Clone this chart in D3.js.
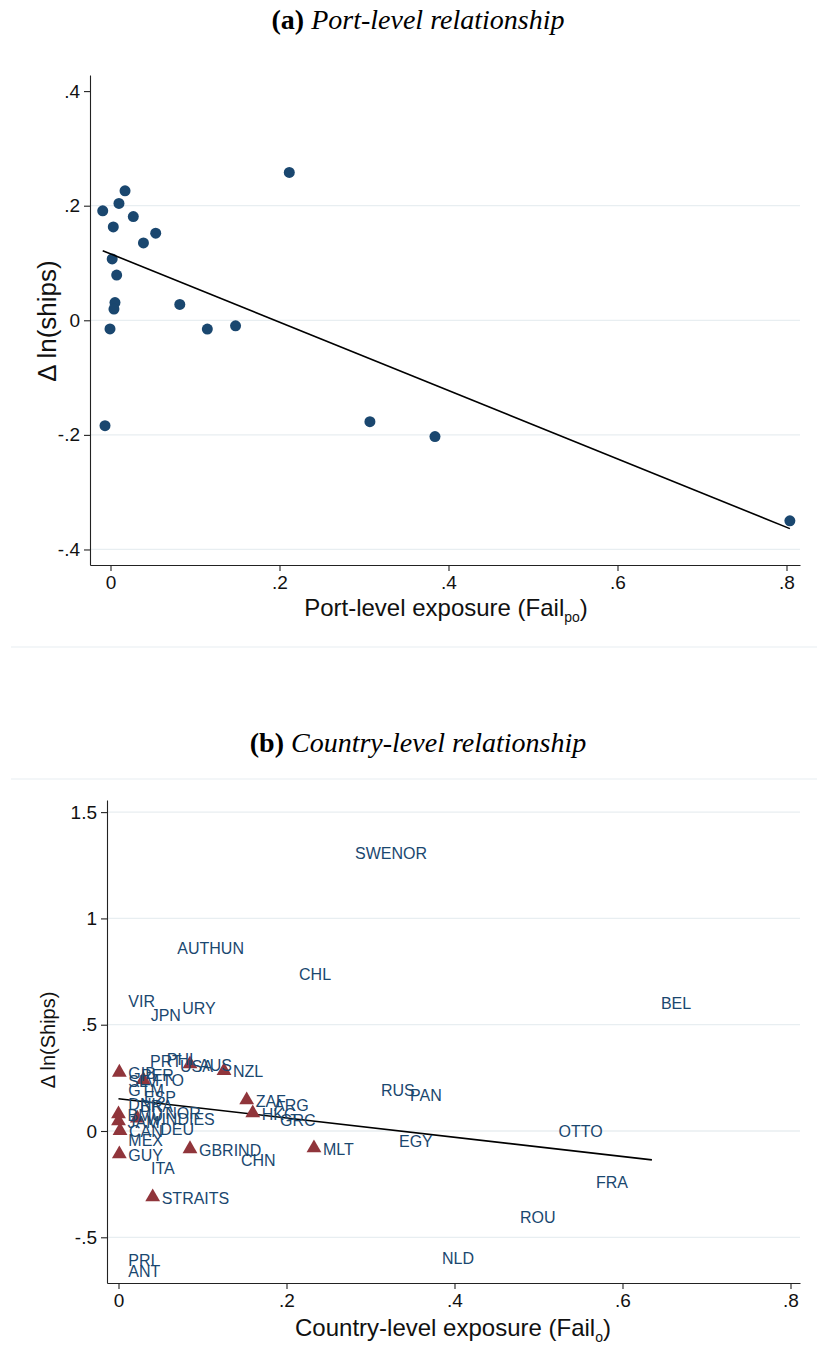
<!DOCTYPE html>
<html>
<head>
<meta charset="utf-8">
<script src="https://cdn.jsdelivr.net/npm/d3@7"></script>
<style>
  body { margin: 0; background: #fff; }
  svg { display: block; }
</style>
</head>
<body>
<script>
// ---------- Panel (a): port-level observations ----------
const portExposure = [-0.0092, 0.0033, 0.010, 0.0172, 0.027, 0.039, 0.0535, 0.002, 0.0073, 0.0053,
                      0.0041, -0.0006, 0.082, 0.1146, 0.148, 0.2116, -0.0065, 0.307, 0.384, 0.804];
const portChange   = [0.191, 0.163, 0.204, 0.226, 0.181, 0.135, 0.152, 0.107, 0.079, 0.031,
                      0.0195, -0.015, 0.0276, -0.0154, -0.0096, 0.258, -0.184, -0.177, -0.203, -0.350];
const portFitX = [-0.0092, 0.804];
const portFitY = [0.1215, -0.3636];
const portTicksX = [0, 0.2, 0.4, 0.6, 0.8];
const portTickLabelsX = ["0", ".2", ".4", ".6", ".8"];
const portTicksY = [-0.4, -0.2, 0, 0.2, 0.4];
const portTickLabelsY = ["-.4", "-.2", "0", ".2", ".4"];
const portGridY = [-0.4, -0.2, 0, 0.2];

// ---------- Panel (b): country-level observations ----------
// empire: 1 = British Empire (triangle marker), 0 = label only
const countryCodes = ["SWENOR","AUTHUN","CHL","VIR","JPN","URY","BEL","PHI","PRT","USA",
                      "ARG","GRC","CHN","ITA","PRI","ANT","NLD","ROU","FRA","OTTO",
                      "EGY","RUS","PAN","PER","SLV","GTM","ESP","DNK","BRA","NOR",
                      "DEU","MEX","GIB","TTO","AUS","NZL","ZAF","HKG","MLT","GBRIND",
                      "GUY","STRAITS","BMU","JAM","WINDIES","CAN"];
const countryExposure = [0.2708, 0.0593, 0.2042, 0.001, 0.0276, 0.0652, 0.635, 0.0467, 0.0268, 0.0625,
                         0.1744, 0.1815, 0.1351, 0.028, 0.001, 0.001, 0.3744, 0.4673, 0.5577, 0.5131,
                         0.3232, 0.3018, 0.3363, 0.0161, 0.001, 0.001, 0.0196, 0.001, 0.015, 0.045,
                         0.039, 0.001, 0.001, 0.0295, 0.0851, 0.1256, 0.1526, 0.1598, 0.2327, 0.0851,
                         0.001, 0.0407, 0.0, 0.0, 0.0224, 0.0018];
const countryChange   = [1.308, 0.859, 0.738, 0.611, 0.546, 0.577, 0.602, 0.339, 0.329, 0.306,
                         0.122, 0.052, -0.136, -0.174, -0.607, -0.659, -0.597, -0.405, -0.240, 0.0,
                         -0.047, 0.190, 0.169, 0.263, 0.235, 0.193, 0.160, 0.127, 0.118, 0.085,
                         0.007, -0.042, 0.271, 0.237, 0.310, 0.279, 0.141, 0.080, -0.085, -0.089,
                         -0.113, -0.315, 0.075, 0.042, 0.055, -0.003];
const countryEmpire   = [0,0,0,0,0,0,0,0,0,0,
                         0,0,0,0,0,0,0,0,0,0,
                         0,0,0,0,0,0,0,0,0,0,
                         0,0,1,1,1,1,1,1,1,1,
                         1,1,1,1,1,1];
const countryFitX = [0, 0.635];
const countryFitY = [0.152, -0.136];
const countryTicksX = [0, 0.2, 0.4, 0.6, 0.8];
const countryTickLabelsX = ["0", ".2", ".4", ".6", ".8"];
const countryTicksY = [-0.5, 0, 0.5, 1, 1.5];
const countryTickLabelsY = ["-.5", "0", ".5", "1", "1.5"];

// ---------- styling ----------
const NAVY = "#1a476f";
const MAROON = "#90353b";
const GRID = "#e8eef1";
const SANS = "'Liberation Sans', Arial, Helvetica, sans-serif";
const SERIF = "'Liberation Serif', 'Times New Roman', serif";

const W = 817, H = 1347;
const svg = d3.select("body").append("svg").attr("width", W).attr("height", H)
  .style("font-family", SANS);

// panel titles
function panelTitle(y, letter, text) {
  const t = svg.append("text").attr("x", 418).attr("y", y)
    .attr("text-anchor", "middle").style("font-family", SERIF).style("font-size", "28px");
  t.append("tspan").attr("font-weight", "bold").text(letter);
  t.append("tspan").attr("font-style", "italic").text(" " + text);
}
panelTitle(29, "(a)", "Port-level relationship");
panelTitle(752, "(b)", "Country-level relationship");

// light separators between graph regions
[647, 779].forEach(y => svg.append("line").attr("x1", 11).attr("x2", 817)
  .attr("y1", y).attr("y2", y).attr("stroke", GRID).attr("stroke-width", 1.2));

function drawAxes(g, x, y, cfg) {
  const [x0, x1] = x.range();
  const [yb, yt] = y.range();
  // grid
  g.append("g").selectAll("line").data(cfg.gridY).join("line")
    .attr("x1", x0).attr("x2", x1)
    .attr("y1", d => y(d)).attr("y2", d => y(d))
    .attr("stroke", GRID).attr("stroke-width", 1.3);

  const ax = g.append("g").attr("transform", `translate(0,${yb})`)
    .call(d3.axisBottom(x).tickValues(cfg.ticksX).tickFormat((d, i) => cfg.labelsX[i])
      .tickSize(6).tickSizeOuter(0).tickPadding(5));
  const ay = g.append("g").attr("transform", `translate(${x0},0)`)
    .call(d3.axisLeft(y).tickValues(cfg.ticksY).tickFormat((d, i) => cfg.labelsY[i])
      .tickSize(6).tickSizeOuter(0).tickPadding(4));
  [ax, ay].forEach(a => {
    a.select(".domain").attr("stroke", "#222").attr("stroke-width", 1.1);
    a.selectAll(".tick line").attr("stroke", "#222").attr("stroke-width", 1.1);
    a.selectAll(".tick text").style("font-family", SANS).style("font-size", cfg.tickFont + "px").attr("fill", "#111");
  });
}

// ---------- Panel (a) ----------
{
  const x = d3.scaleLinear().domain([-0.02426, 0.81598]).range([90, 800]);
  const y = d3.scaleLinear().domain([-0.4271, 0.4281]).range([565, 75]);
  const g = svg.append("g");
  drawAxes(g, x, y, { ticksX: portTicksX, labelsX: portTickLabelsX, ticksY: portTicksY,
                      labelsY: portTickLabelsY, gridY: portGridY, tickFont: 19 });

  g.append("g").selectAll("circle").data(portExposure.map((d, i) => [d, portChange[i]])).join("circle")
    .attr("cx", d => x(d[0])).attr("cy", d => y(d[1])).attr("r", 5.5).attr("fill", NAVY);

  g.append("line")
    .attr("x1", x(portFitX[0])).attr("y1", y(portFitY[0]))
    .attr("x2", x(portFitX[1])).attr("y2", y(portFitY[1]))
    .attr("stroke", "#000").attr("stroke-width", 1.6);

  const xt = g.append("text").attr("x", 446).attr("y", 616).attr("text-anchor", "middle")
    .style("font-size", "24px").attr("fill", "#111");
  xt.append("tspan").text("Port-level exposure (Fail");
  xt.append("tspan").attr("dy", 6).style("font-size", "14px").text("po");
  xt.append("tspan").attr("dy", -6).text(")");

  g.append("text").attr("transform", "translate(56,321) rotate(-90)").attr("text-anchor", "middle")
    .style("font-size", "26px").attr("fill", "#111").text("Δ ln(ships)");
}

// ---------- Panel (b) ----------
{
  const x = d3.scaleLinear().domain([-0.01369, 0.81131]).range([107, 800]);
  const y = d3.scaleLinear().domain([-0.715, 1.557]).range([1283, 800]);
  const g = svg.append("g");
  drawAxes(g, x, y, { ticksX: countryTicksX, labelsX: countryTickLabelsX, ticksY: countryTicksY,
                      labelsY: countryTickLabelsY, gridY: countryTicksY, tickFont: 19 });

  const rows = countryCodes.map((c, i) => ({ code: c, fx: countryExposure[i], dy: countryChange[i], emp: countryEmpire[i] }));

  g.append("line")
    .attr("x1", x(countryFitX[0])).attr("y1", y(countryFitY[0]))
    .attr("x2", x(countryFitX[1])).attr("y2", y(countryFitY[1]))
    .attr("stroke", "#000").attr("stroke-width", 1.6);

  const tri = d3.symbol().type(d3.symbolTriangle).size(95);
  g.append("g").selectAll("path").data(rows.filter(r => r.emp === 1)).join("path")
    .attr("d", tri).attr("transform", d => `translate(${x(d.fx)},${y(d.dy) - 1})`)
    .attr("fill", MAROON);

  g.append("g").selectAll("text").data(rows).join("text")
    .attr("x", d => x(d.fx) + 9).attr("y", d => y(d.dy)).attr("dy", "0.36em")
    .style("font-size", "16px").attr("fill", NAVY).text(d => d.code);

  const xt = g.append("text").attr("x", 453).attr("y", 1336).attr("text-anchor", "middle")
    .style("font-size", "24px").attr("fill", "#111");
  xt.append("tspan").text("Country-level exposure (Fail");
  xt.append("tspan").attr("dy", 6).style("font-size", "14px").text("o");
  xt.append("tspan").attr("dy", -6).text(")");

  g.append("text").attr("transform", "translate(55,1040) rotate(-90)").attr("text-anchor", "middle")
    .style("font-size", "20px").attr("fill", "#111").text("Δ ln(Ships)");
}
</script>
</body>
</html>
